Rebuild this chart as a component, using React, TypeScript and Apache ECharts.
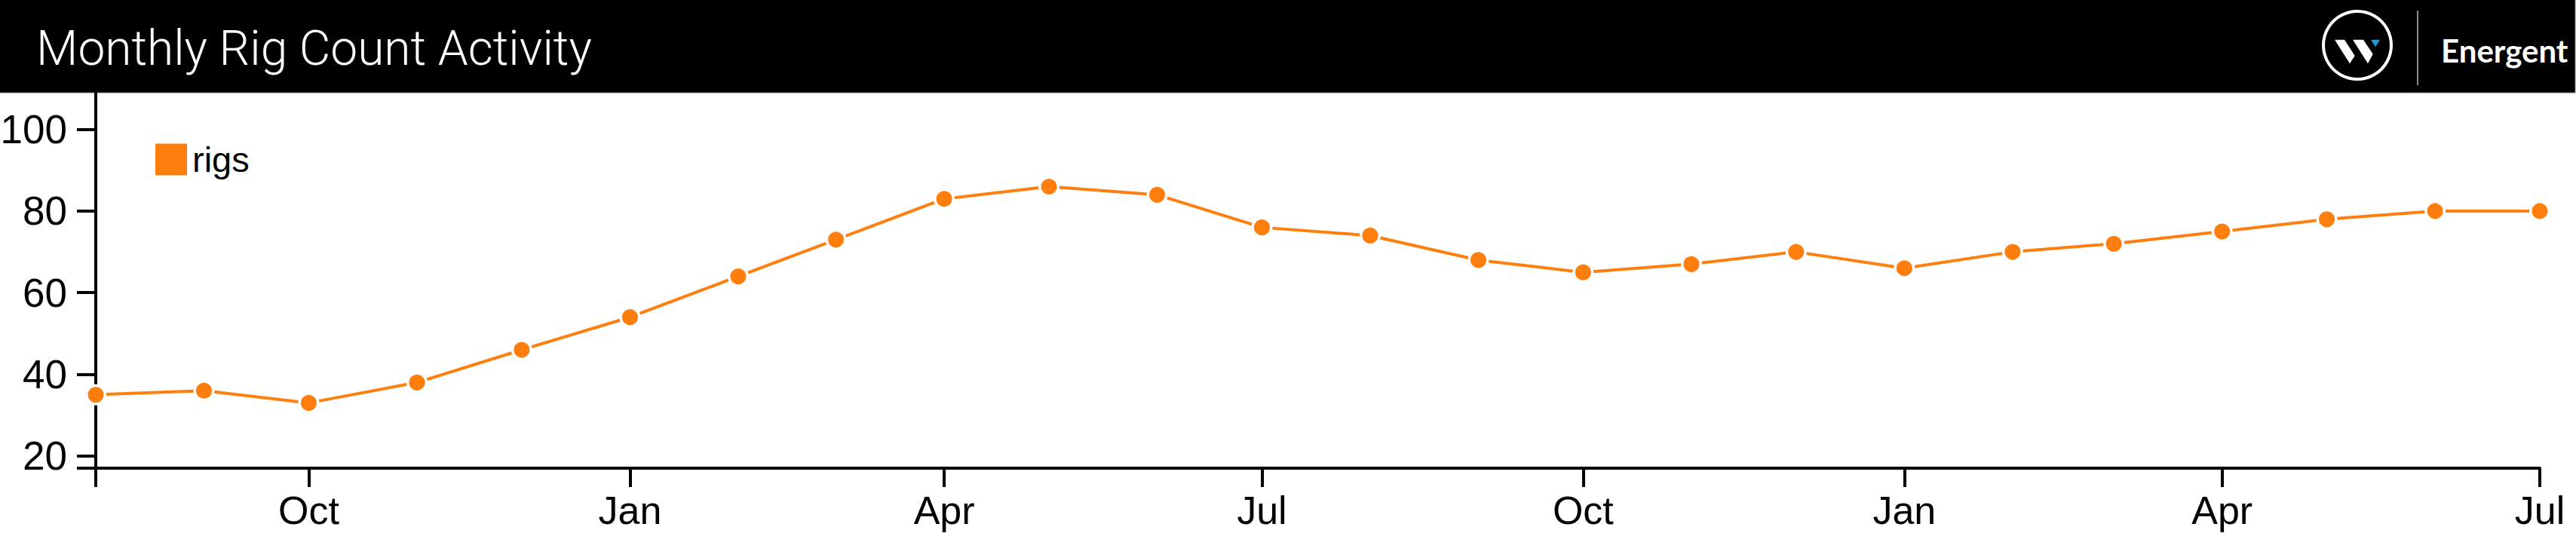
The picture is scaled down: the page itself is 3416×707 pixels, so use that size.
import React, { useEffect, useRef } from "react";
import * as echarts from "echarts";

// ---- data ----
const months: string[] = [
  "2022-08", "2022-09", "2022-10", "2022-11", "2022-12",
  "2023-01", "2023-02", "2023-03", "2023-04", "2023-05", "2023-06", "2023-07",
  "2023-08", "2023-09", "2023-10", "2023-11", "2023-12",
  "2024-01", "2024-02", "2024-03", "2024-04", "2024-05", "2024-06", "2024-07",
];
const rigs: number[] = [
  35, 36, 33, 38, 46, 54, 64, 73, 83, 86, 84, 76,
  74, 68, 65, 67, 70, 66, 70, 72, 75, 78, 80, 80,
];
const xTickMonths: string[] = ["2022-10", "2023-01", "2023-04", "2023-07", "2023-10", "2024-01", "2024-04", "2024-07"];
const yTicks: number[] = [20, 40, 60, 80, 100];
const monthNames: string[] = ["Jan", "Feb", "Mar", "Apr", "May", "Jun", "Jul", "Aug", "Sep", "Oct", "Nov", "Dec"];
const seriesName = "rigs";
const titleText = "Monthly Rig Count Activity";
const brandText = "Energent";

const toTs = (m: string) => {
  const [y, mo] = m.split("-").map(Number);
  return Date.UTC(y, mo - 1, 1);
};

const Y_MIN = 17;
const Y_MAX = 109;

export default function App() {
  const ref = useRef<HTMLDivElement>(null);

  useEffect(() => {
    document.body.style.margin = "0";
    if (!ref.current) return;
    const chart = echarts.init(ref.current, null, { renderer: "svg" });

    const xStart = toTs(months[0]);
    const xEnd = toTs(months[months.length - 1]);
    const xLabelVals = xTickMonths.map(toTs);

    const option: any = {
      animation: false,
      backgroundColor: "#fff",
      grid: {
        left: 127,
        right: 48,
        top: 123,
        bottom: 86,
        containLabel: false,
        outerBoundsMode: "none",
      },
      legend: {
        show: true,
        left: 201,
        top: 183,
        padding: 5,
        icon: "rect",
        itemWidth: 42,
        itemHeight: 42,
        itemGap: 10,
        itemStyle: { borderWidth: 0, color: "#ff7f0e" },
        textStyle: {
          fontFamily: "Liberation Sans, Arial, sans-serif",
          fontSize: 47,
          color: "#000",
          padding: [0, 0, 0, 2],
        },
        data: [seriesName],
      },
      xAxis: {
        type: "value",
        min: xStart,
        max: xEnd,
        axisLine: { show: true, lineStyle: { color: "#000", width: 4 } },
        axisTick: {
          show: true,
          length: 25,
          lineStyle: { color: "#000", width: 4 },
          customValues: [xStart, ...xLabelVals],
        },
        axisLabel: {
          show: true,
          customValues: xLabelVals,
          margin: 30,
          fontFamily: "Liberation Sans, Arial, sans-serif",
          fontSize: 52,
          color: "#000",
          formatter: (v: number) => monthNames[new Date(v).getUTCMonth()],
        },
        splitLine: { show: false },
      },
      yAxis: {
        type: "value",
        min: Y_MIN,
        max: Y_MAX,
        axisLine: { show: true, lineStyle: { color: "#000", width: 4 } },
        axisTick: {
          show: true,
          length: 25,
          lineStyle: { color: "#000", width: 4 },
          customValues: [Y_MIN, ...yTicks],
        },
        axisLabel: {
          show: true,
          customValues: yTicks,
          margin: 38,
          fontFamily: "Liberation Sans, Arial, sans-serif",
          fontSize: 53,
          color: "#000",
        },
        splitLine: { show: false },
      },
      series: [
        {
          name: seriesName,
          type: "line",
          data: months.map((m, i) => [toTs(m), rigs[i]]),
          clip: false,
          symbol: "circle",
          symbolSize: 24.5,
          showSymbol: true,
          color: "#ff7f0e",
          lineStyle: { color: "#ff7f0e", width: 4 },
          itemStyle: { color: "#ff7f0e", borderColor: "#fff", borderWidth: 3.5 },
          emphasis: { disabled: true },
          z: 5,
        },
      ],
      graphic: [
        {
          type: "group",
          z: 100,
          children: [
            {
              type: "rect",
              shape: { x: 0, y: 0, width: 3415, height: 123 },
              style: { fill: "#000" },
            },
            {
              type: "line",
              shape: { x1: 0, y1: 123.5, x2: 3416, y2: 123.5 },
              style: { stroke: "#c8c8c8", lineWidth: 1.5 },
            },
            {
              type: "line",
              shape: { x1: 3415.5, y1: 0, x2: 3415.5, y2: 123 },
              style: { stroke: "#c8c8c8", lineWidth: 1.5 },
            },
            {
              type: "text",
              x: 48,
              y: 64,
              style: {
                text: titleText,
                fill: "#fff",
                font: "300 64px Roboto, sans-serif",
                verticalAlign: "middle",
                align: "left",
              },
            },
            {
              type: "circle",
              shape: { cx: 3126, cy: 60, r: 45 },
              style: { fill: "none", stroke: "#fff", lineWidth: 4 },
            },
            {
              type: "polygon",
              shape: { points: [[3096, 52.7], [3109, 52.7], [3122.7, 74], [3116, 84.3]] },
              style: { fill: "#fff" },
            },
            {
              type: "polygon",
              shape: { points: [[3120, 52.7], [3134, 52.7], [3146.7, 71.7], [3140, 84.3]] },
              style: { fill: "#fff" },
            },
            {
              type: "polygon",
              shape: { points: [[3144, 52.7], [3156, 52.7], [3150, 62.3]] },
              style: { fill: "#1a9ad6" },
            },
            {
              type: "line",
              shape: { x1: 3206, y1: 14, x2: 3206, y2: 113 },
              style: { stroke: "#8a8a8a", lineWidth: 2 },
            },
            {
              type: "text",
              x: 3237,
              y: 67,
              style: {
                text: brandText,
                fill: "#fff",
                font: "bold 42px Lato, sans-serif",
                verticalAlign: "middle",
                align: "left",
              },
            },
          ],
        },
      ],
    };

    chart.setOption(option);
    return () => {
      chart.dispose();
    };
  }, []);

  return <div ref={ref} style={{ width: 3416, height: 707 }} />;
}
